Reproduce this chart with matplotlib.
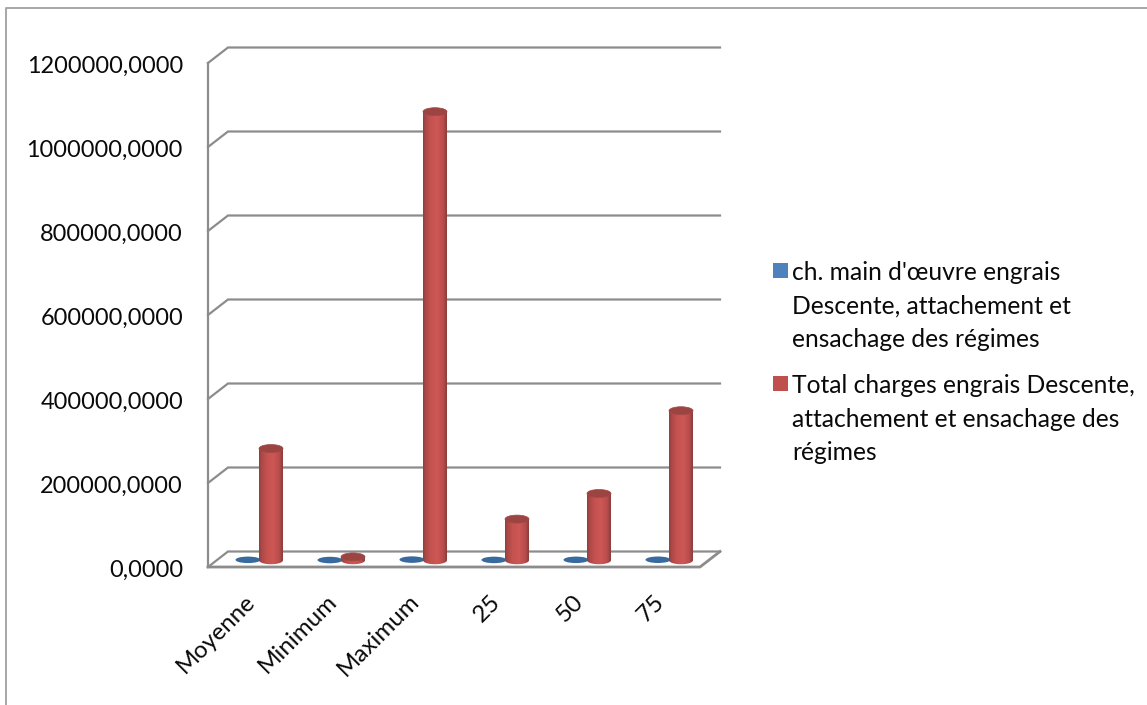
import numpy as np
import matplotlib
matplotlib.use("Agg")
import matplotlib.pyplot as plt
from matplotlib.patches import Ellipse, PathPatch, Rectangle
from matplotlib.path import Path
from matplotlib.lines import Line2D
from matplotlib.colors import LinearSegmentedColormap
from matplotlib.transforms import ScaledTranslation

categories = ["Moyenne", "Minimum", "Maximum", "25", "50", "75"]
main_oeuvre = [1000, 500, 1500, 800, 1000, 1200]
total_charges = [266000, 8000, 1068000, 98000, 159000, 356000]
yticks = [0, 200000, 400000, 600000, 800000, 1000000, 1200000]
legend_labels = ["ch. main d'œuvre engrais\nDescente, attachement et\nensachage des régimes",
                 "Total charges engrais Descente,\nattachement et ensachage des\nrégimes"]

W, H = 1147, 705
plt.rcParams['font.family'] = ['Lato', 'DejaVu Sans']

fig = plt.figure(figsize=(W / 100, H / 100), dpi=100)
ax = fig.add_axes([208 / W, 1 - 567 / H, 492 / W, 504 / H])
ax.set_xlim(0, 6)
ax.set_ylim(0, 1200000)
ax.patch.set_visible(False)
for s in ax.spines.values():
    s.set_visible(False)

# depth of the fake 3d box, in data units
px_x = 6 / 492
px_y = 1200000 / 504
dx = 20 * px_x
dy = 15.5 * px_y
grid = '#8c8c8c'
lw = 1.6

for v in yticks:
    ax.plot([0, dx, 6 + dx], [v, v + dy, v + dy], color=grid, lw=lw, clip_on=False, zorder=1,
            solid_joinstyle='miter')
ax.plot([0, 0], [0, 1200000], color=grid, lw=lw, clip_on=False, zorder=1)
ax.plot([0, 6, 6 + dx], [0, 0, dy], color=grid, lw=lw + 0.4, clip_on=False, zorder=1,
        solid_joinstyle='miter')

cmap_red = LinearSegmentedColormap.from_list(
    'r', [(0, '#8f403e'), (0.12, '#b04947'), (0.35, '#c65351'), (0.6, '#cc5755'),
          (0.85, '#b94d4b'), (1, '#8a3d3b')])
grad = np.linspace(0, 1, 64).reshape(1, -1)


def cylinder(x, v):
    w = 24 * px_x
    eh = 8 * px_y
    y0 = dy / 2 - 1 * px_y
    t = np.linspace(np.pi, 2 * np.pi, 40)
    xs = x + w / 2 * np.cos(t)
    ys = y0 + eh / 2 * np.sin(t)
    verts = list(zip(xs, ys)) + [(x + w / 2, y0 + v), (x - w / 2, y0 + v), (xs[0], ys[0])]
    clip = PathPatch(Path(verts), transform=ax.transData, fc='none', ec='none')
    ax.add_patch(clip)
    im = ax.imshow(grad, extent=[x - w / 2, x + w / 2, y0 - eh, y0 + v], cmap=cmap_red,
                   aspect='auto', zorder=4, clip_on=True)
    im.set_clip_path(clip)
    ax.add_patch(Ellipse((x, y0 + v), w, eh, fc='#9c4442', ec='#a44846', lw=0.5, zorder=5, clip_on=False))


for i in range(len(categories)):
    cx = i + 0.5 + dx / 2 + 1 * px_x
    ax.add_patch(Ellipse((cx - 12 * px_x, dy / 2 - 1 * px_y + main_oeuvre[i]), 25 * px_x, 6.5 * px_y,
                         fc='#386a9e', ec='none', zorder=3, clip_on=False))
    cylinder(cx + 11 * px_x, total_charges[i])

ax.set_xlim(0, 6)
ax.set_ylim(0, 1200000)

ax.set_yticks(yticks)
ax.set_yticklabels([f"{v},0000" for v in yticks], fontsize=16.9, color='#0a0a0a')
ax.tick_params(axis='y', length=0, pad=18)
for t in ax.get_yticklabels():
    t.set_transform(t.get_transform() + ScaledTranslation(0, -0.015, fig.dpi_scale_trans))
ax.set_xticks(np.arange(6) + 0.5)
ax.set_xticklabels(categories, fontsize=17.4, rotation=45, ha='right', rotation_mode='anchor', color='#0a0a0a')
ax.tick_params(axis='x', length=0, pad=17)
for t in ax.get_xticklabels():
    t.set_transform(t.get_transform() + ScaledTranslation(-0.05, 0, fig.dpi_scale_trans))

# legend
legend_colors = ['#4f81bd', '#c0504d']
legend_y = [263, 376]
for lab, col, y in zip(legend_labels, legend_colors, legend_y):
    fig.add_artist(Rectangle((773 / W, 1 - (y + 15) / H), 15 / W, 15 / H, transform=fig.transFigure,
                             fc=col, ec='none'))
    fig.text(792 / W, 1 - (y - 2) / H, lab, fontsize=17.7, va='top', ha='left', linespacing=1.56,
             color='#0a0a0a')

# chart border
border = '#a0a0a0'
fig.add_artist(Line2D([6 / W, 6 / W, 1], [0, 1 - 8 / H, 1 - 8 / H], color=border, lw=1.3,
                      transform=fig.transFigure))

fig.savefig("out.png", dpi=100)
